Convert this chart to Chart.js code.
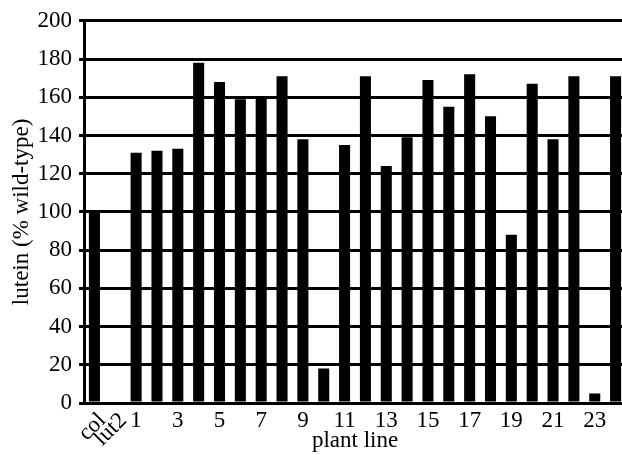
<!DOCTYPE html>
<html>
<head>
<meta charset="utf-8">
<script src="https://cdn.jsdelivr.net/npm/chart.js@4.4.1/dist/chart.umd.min.js"></script>
<style>
  html, body { margin: 0; padding: 0; background: #fff; overflow: hidden; }
  #wrap { width: 630px; height: 455px; }
</style>
</head>
<body>
<div id="wrap"><canvas id="toolChart" width="630" height="455"></canvas></div>
<script>
// lutein content per plant line, % of wild-type
const categories = ['col', 'lut2', '1', '2', '3', '4', '5', '6', '7', '8', '9', '10', '11', '12',
  '13', '14', '15', '16', '17', '18', '19', '20', '21', '22', '23', '24'];
const luteinValues = [100, 0, 131, 132, 133, 178, 168, 159, 160, 171, 138, 18, 135, 171,
  124, 139, 169, 155, 172, 150, 88, 167, 138, 171, 5, 171];
// only these labels are printed under the axis
const tickLabels = ['col', 'lut2', '1', '', '3', '', '5', '', '7', '', '9', '', '11', '',
  '13', '', '15', '', '17', '', '19', '', '21', '', '23', ''];
const rotatedLabels = ['col', 'lut2'];
const yTicks = [0, 20, 40, 60, 80, 100, 120, 140, 160, 180, 200];

const serif = '"Liberation Serif", "Times New Roman", serif';
const fontSize = 23;

const xLabelPlugin = {
  id: 'xLabels',
  afterDraw(chart) {
    const ctx = chart.ctx;
    const xs = chart.scales.x;
    ctx.save();
    ctx.fillStyle = '#000';
    ctx.font = fontSize + 'px ' + serif;
    tickLabels.forEach((label, i) => {
      if (!label) return;
      const x = xs.getPixelForValue(i);
      if (rotatedLabels.includes(label)) {
        ctx.save();
        ctx.translate(x + 8, 417);
        ctx.rotate(-Math.PI / 4);
        ctx.textAlign = 'right';
        ctx.textBaseline = 'middle';
        ctx.fillText(label, 0, 0);
        ctx.restore();
      } else {
        ctx.textAlign = 'center';
        ctx.textBaseline = 'middle';
        ctx.fillText(label, x, 421);
      }
    });
    ctx.restore();
  }
};

new Chart(document.getElementById('toolChart'), {
  type: 'bar',
  data: {
    labels: categories,
    datasets: [{
      data: luteinValues,
      backgroundColor: '#000',
      borderWidth: 0,
      barPercentage: 0.53,
      categoryPercentage: 1.0
    }]
  },
  options: {
    responsive: false,
    animation: false,
    layout: { padding: { top: 20, right: 4, left: 0, bottom: 0 } },
    plugins: { legend: { display: false }, tooltip: { enabled: false } },
    scales: {
      x: {
        ticks: { display: false },
        grid: { display: false },
        border: { display: false },
        title: {
          display: true,
          text: 'plant line',
          color: '#000',
          font: { family: serif, size: fontSize },
          padding: { top: 0, bottom: 0 }
        },
        afterFit(scale) { scale.height = 52; }
      },
      y: {
        min: 0,
        max: 200,
        afterBuildTicks(scale) { scale.ticks = yTicks.map(v => ({ value: v })); },
        ticks: {
          color: '#000',
          font: { family: serif, size: fontSize },
          padding: 7
        },
        grid: { color: '#000', lineWidth: 3, tickLength: 5, drawTicks: true },
        border: { display: true, color: '#000', width: 3 },
        title: {
          display: true,
          text: 'lutein (% wild-type)',
          color: '#000',
          font: { family: serif, size: fontSize },
          padding: { top: 8, bottom: 2 }
        },
        afterFit(scale) { scale.width = 84; }
      }
    }
  },
  plugins: [xLabelPlugin]
});
</script>
</body>
</html>
